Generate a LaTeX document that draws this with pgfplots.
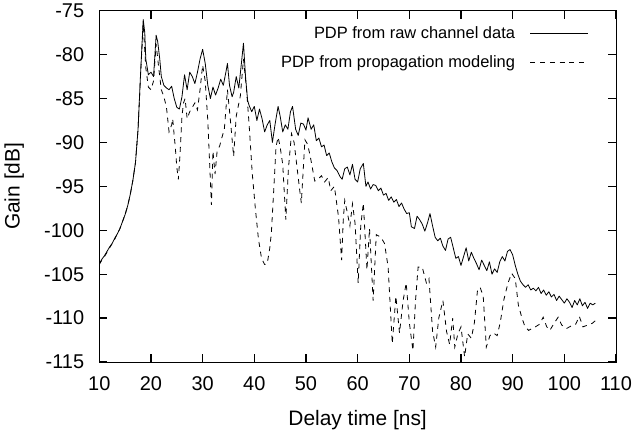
\documentclass[border=0pt]{standalone}
\usepackage{pgfplots}
\pgfplotsset{compat=1.18}
\usepackage{fontspec}
\setmainfont{Liberation Sans}
\begin{document}
\begin{tikzpicture}
\begin{axis}[
  scale only axis, width=516.7bp, height=351.3bp,
  xmin=10, xmax=110, ymin=-115, ymax=-75,
  xtick={10,20,...,110}, ytick={-115,-110,...,-75},
  tick align=inside, major tick length=8bp,
  axis line style={line width=0.9bp},
  major tick style={black, line width=1.2bp},
  /pgf/number format/assume math mode=true,
  ticklabel style={font=\fontsize{20}{24}\selectfont},
  xticklabel style={anchor=north, inner sep=0pt, yshift=-14bp},
  yticklabel style={anchor=east, inner sep=0pt, xshift=-15bp},
  xlabel={Delay time [ns]}, ylabel={Gain [dB]},
  label style={font=\fontsize{21}{24}\selectfont},
  xlabel style={at={(axis description cs:0.5,0)}, anchor=center, yshift=-58bp},
  ylabel style={at={(axis description cs:0,0.5)}, anchor=center, xshift=0bp, yshift=85bp},
  legend plot pos=right, legend cell align=right,
  legend image code/.code={\draw[#1] (0bp,0bp) -- (58bp,0bp);},
  legend style={draw=none, fill=none, at={(rel axis cs:1,1)}, anchor=north east,
    xshift=-24bp, yshift=-12bp, font=\fontsize{16.5}{20}\selectfont, row sep=11bp,
    column sep=13bp},
]
\coordinate (ll) at (rel axis cs:0,0);
\coordinate (ur) at (rel axis cs:1,1);
\addplot[black, line width=0.8bp, line join=round] coordinates {
(10,-103.8) (10.5,-103.3) (11,-102.9) (11.5,-102.4) (12,-101.9) (12.5,-101.5) (13,-100.9) (13.5,-100.4)
(14,-99.8) (14.5,-99.0) (15,-98.2) (15.5,-97.2) (16,-95.9) (16.5,-94.3) (17,-92.3) (17.5,-88.5)
(18,-82) (18.5,-76) (18.8,-77.5) (19,-80.5) (19.5,-82.3) (20,-82.0) (20.5,-82.5) (21,-77.8)
(21.3,-78.5) (21.7,-80.5) (22,-82.5) (22.5,-83.5) (23,-83.8) (23.5,-84.0) (24,-83.6) (24.5,-85.0)
(25,-86.0) (25.5,-86.2) (26,-84.8) (26.5,-82.3) (27,-84.0) (27.5,-82.0) (28,-82.5) (28.5,-83.3)
(29,-82.0) (29.5,-80.5) (30,-79.4) (30.5,-81.0) (31,-83.5) (31.5,-85.0) (32,-83.7) (32.5,-84.6)
(33,-83.8) (33.5,-82.8) (34,-83.5) (34.5,-82.0) (34.8,-81.0) (35.2,-83.5) (35.7,-84.8) (36,-84.3)
(36.5,-82.5) (37,-83.8) (37.5,-81.0) (37.9,-78.7) (38.3,-82.5) (38.7,-85.2) (39,-85.8) (39.5,-86.5)
(40,-85.9) (40.5,-87.5) (41,-86.2) (41.5,-87.3) (42,-88.8) (42.5,-88.0) (43,-87.5) (43.5,-90.0)
(44,-88.0) (44.6,-85.9) (45,-87.0) (45.5,-88.8) (46,-88.0) (46.5,-88.5) (47,-86.5) (47.4,-85.9)
(48,-88.5) (48.5,-89.2) (49,-87.8) (49.5,-87.9) (50,-88.6) (50.4,-87.2) (51,-88.5) (51.5,-88.0)
(52,-89.8) (52.5,-89.5) (53,-90.5) (53.5,-90.3) (54,-91.5) (54.5,-91.2) (55,-92.2) (55.5,-92.9)
(56,-93.2) (56.6,-93.9) (57,-94.2) (57.5,-93.0) (58,-92.8) (58.5,-93.7) (59,-92.5) (59.5,-94.2)
(60,-94.5) (60.5,-93.0) (61.1,-92.4) (61.6,-95.0) (62,-94.5) (62.5,-95.3) (63,-94.8) (63.5,-94.9)
(64,-95.5) (64.5,-95.2) (65,-96.0) (65.5,-95.8) (66,-96.6) (66.5,-96.2) (67,-96.8) (67.5,-96.5)
(68,-97.3) (68.5,-96.9) (69,-97.6) (69.5,-98.1) (70,-98.0) (70.4,-99.6) (71,-99.8) (71.5,-98.4)
(72,-98.8) (72.5,-99.3) (73,-100.1) (73.5,-99.2) (74,-98.1) (74.5,-99.5) (75,-100.8) (75.5,-101.2)
(76,-100.9) (76.5,-101.8) (77,-102.3) (77.5,-101.0) (78,-100.8) (78.5,-102.0) (79,-103.2) (79.5,-103.0)
(80,-104.0) (80.5,-103.0) (81,-102.0) (81.5,-103.5) (82,-102.5) (82.5,-103.2) (83,-103.8) (83.5,-104.5)
(84,-103.4) (84.5,-104.0) (85,-104.6) (85.5,-103.6) (86,-105.0) (86.5,-104.4) (87,-104.8) (87.5,-103.6)
(88,-103.0) (88.5,-103.5) (89,-102.4) (89.5,-102.2) (90,-102.8) (90.5,-104.0) (91,-105.0) (91.5,-105.8)
(92,-106.2) (92.5,-106.5) (93,-106.2) (93.5,-106.8) (94,-106.6) (94.5,-106.9) (95,-106.5) (95.5,-107.2)
(96,-106.8) (96.5,-107.4) (97,-107.0) (97.5,-107.6) (98,-107.3) (98.5,-108.0) (99,-107.5) (99.5,-107.9)
(100,-108.3) (100.5,-107.8) (101,-108.2) (101.5,-108.8) (102,-108.0) (102.5,-108.5) (103,-107.8) (103.5,-108.6)
(104,-108.2) (104.5,-108.9) (105,-108.3) (105.5,-108.5) (106,-108.3)
};
\addlegendentry{PDP from raw channel data}
\addplot[black, line width=0.8bp, dash pattern=on 5bp off 4.7bp] coordinates {
(10,-103.9) (10.5,-103.4) (11,-103.0) (11.5,-102.5) (12,-102.0) (12.5,-101.5) (13,-101.0) (13.5,-100.4)
(14,-99.8) (14.5,-99.0) (15,-98.2) (15.5,-97.2) (16,-95.9) (16.5,-94.3) (17,-92.3) (17.5,-88.5)
(18,-82.2) (18.5,-76.5) (19,-81.5) (19.5,-83.7) (20,-84.0) (20.5,-83.0) (21,-78.8) (21.5,-81.5)
(22,-84.0) (22.5,-84.8) (23,-86.0) (23.5,-88.8) (24,-88.0) (24.2,-87.3) (24.7,-90.5) (25.0,-92.8)
(25.3,-94.2) (25.6,-91.6) (26,-87.0) (26.3,-85.5) (26.6,-85.0) (27,-87.3) (27.5,-86.5) (28,-86.0)
(28.5,-85.5) (29,-86.3) (29.5,-84.0) (30,-81.2) (30.5,-83.0) (31,-87.5) (31.4,-93.0) (31.7,-97.1)
(32,-91.0) (32.4,-93.6) (32.8,-91.0) (33.3,-90.4) (33.7,-89.5) (34.2,-88.5) (34.8,-84.0) (35.3,-87.0)
(36,-91.6) (36.5,-87.0) (37.3,-84.7) (37.9,-80.5) (38.5,-84.0) (39,-88.0) (39.6,-93.5) (40.2,-97.5)
(40.8,-101.0) (41.4,-103.2) (42.0,-103.9) (42.5,-103.8) (43,-102.0) (43.3,-100.3) (43.8,-95.0) (44.2,-90.5)
(44.6,-89.4) (45.0,-90.5) (45.5,-92.5) (46.1,-98.8) (46.6,-93.0) (47.2,-89.0) (47.7,-90.0) (48.3,-93.0)
(48.8,-95.5) (49.1,-96.9) (49.8,-89.7) (50.3,-90.2) (50.8,-91.5) (51.7,-94.4) (52.3,-94.2) (53,-93.8)
(53.6,-94.5) (54.3,-94.0) (54.8,-95.5) (55.5,-95.0) (56.3,-98.5) (56.9,-103.4) (57.2,-99.0) (57.5,-96.6)
(58,-98.0) (58.5,-99.5) (59.0,-97.0) (59.5,-99.2) (60.1,-106.0) (60.6,-99.5) (61.1,-96.9) (61.8,-104.5)
(62.3,-99.8) (63.0,-108.0) (63.6,-100.5) (64.5,-100.8) (65.2,-101.5) (65.9,-104.2) (66.7,-112.9) (67.4,-107.5)
(68.1,-111.7) (68.8,-108.0) (69.4,-106.0) (70.0,-110.5) (70.7,-113.7) (71.2,-108.0) (71.7,-104.2) (72.5,-104.2)
(73.3,-106.0) (73.8,-105.5) (74.5,-111.5) (75.1,-113.3) (75.7,-110.0) (76.5,-108.0) (77.2,-111.5) (77.8,-113.0)
(78.4,-110.0) (78.8,-113.3) (79.4,-111.8) (80.0,-111.0) (80.7,-114.4) (81.3,-111.8) (82.0,-112.3) (82.6,-110.5)
(83.2,-106.8) (83.7,-106.5) (84.3,-107.5) (84.9,-113.3) (85.6,-112.0) (86.3,-111.7) (87.0,-112.0) (87.6,-110.5)
(88.3,-107.9) (89.1,-106.0) (89.8,-104.9) (90.5,-105.5) (91.1,-108.5) (91.8,-110.0) (92.4,-111.0) (93.1,-111.4)
(93.7,-111.2) (94.4,-111.0) (95.2,-110.7) (95.9,-109.9) (96.6,-111.0) (97.2,-111.4) (97.8,-110.8) (98.8,-109.9)
(99.5,-110.8) (100.4,-111.2) (101.3,-110.9) (102.2,-110.7) (102.9,-109.8) (103.6,-111.0) (104.5,-110.8) (105.4,-110.6)
(106.0,-110.3)
};
\addlegendentry{PDP from propagation modeling}
\end{axis}
\pgfresetboundingbox
\path ([shift={(-99.3bp,-75bp)}]ll) rectangle ([shift={(23bp,10.7bp)}]ur);
\end{tikzpicture}
\end{document}
